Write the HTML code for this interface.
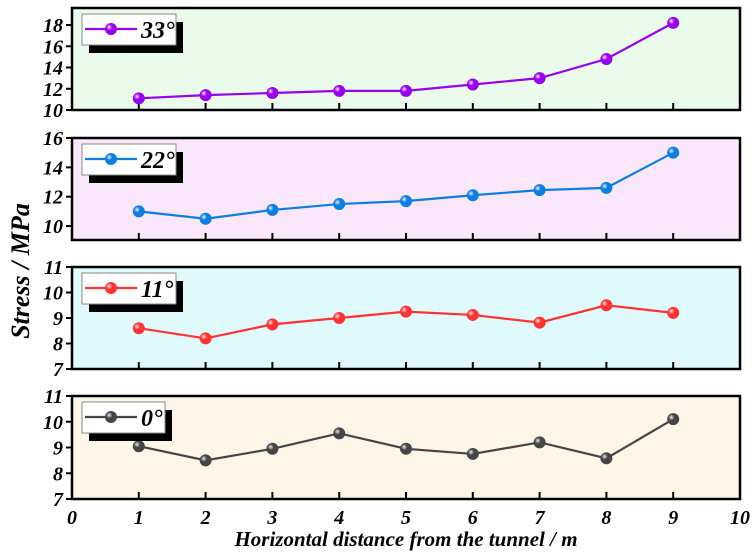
<!DOCTYPE html>
<html><head><meta charset="utf-8"><style>
html,body{margin:0;padding:0;background:#fff;}
svg text{font-family:"Liberation Serif",serif;font-weight:bold;font-style:italic;fill:#000;}
</style></head><body>
<svg id="chart" width="754" height="554" xmlns="http://www.w3.org/2000/svg">
<defs>
<radialGradient id="shine" cx="0.35" cy="0.35" r="0.65"><stop offset="0" stop-color="#fff" stop-opacity="0.9"/><stop offset="0.4" stop-color="#fff" stop-opacity="0"/></radialGradient>
</defs>
</svg>
<script>
const xValues = [1,2,3,4,5,6,7,8,9];
const xTicks = [0,1,2,3,4,5,6,7,8,9,10];
const labels = ["33°","22°","11°","0°"];
const s33 = [11.1,11.4,11.6,11.8,11.8,12.4,13.0,14.8,18.2];
const s22 = [11.0,10.5,11.1,11.5,11.7,12.1,12.45,12.6,15.0];
const s11 = [8.6,8.2,8.75,9.0,9.25,9.12,8.82,9.5,9.2];
const s0 = [9.05,8.5,8.95,9.55,8.95,8.75,9.2,8.58,10.1];
const ticks33 = [10,12,14,16,18];
const ticks22 = [10,12,14,16];
const ticks11 = [7,8,9,10,11];
const ticks0 = [7,8,9,10,11];

const NS="http://www.w3.org/2000/svg";
const svg=document.getElementById('chart');
function mk(t,a,p){const e=document.createElementNS(NS,t);for(const k in a)e.setAttribute(k,a[k]);(p||svg).appendChild(e);return e;}
const X0=72,X1=740;
const xs=v=>X0+(v-0)/(10-0)*(X1-X0);
const panels=[
 {name:'33',data:s33,ticks:ticks33,min:10,max:19.6,top:8,bot:110,bg:'#ebfbeb',col:'#9a00ee',lw:94},
 {name:'22',data:s22,ticks:ticks22,min:9.05,max:16,top:138,bot:240,bg:'#fbe7fb',col:'#0a7ee2',lw:94},
 {name:'11',data:s11,ticks:ticks11,min:7,max:11,top:267,bot:369,bg:'#e0f9fc',col:'#ff3232',lw:94},
 {name:'0',data:s0,ticks:ticks0,min:7,max:11,top:396,bot:499,bg:'#fdf5e6',col:'#454545',lw:83}
];
panels.forEach((p,i)=>{
 const g=mk('g',{});
 
 
 const ys=v=>p.bot-(v-p.min)/(p.max-p.min)*(p.bot-p.top);
 const bg=mk('rect',{x:X0,y:p.top,width:X1-X0,height:p.bot-p.top,fill:p.bg,stroke:'#000','stroke-width':2.5},g);
 
 
 p.ticks.forEach(t=>{
  const y=ys(t);
  mk('line',{x1:X0-6,x2:X0,y1:y,y2:y,stroke:'#000','stroke-width':2},g);
  const tx=mk('text',{x:X0-9,y:y+7,'text-anchor':'end','font-size':20},g);
  tx.textContent=t;
  
  
 });
 xTicks.slice(1,10).forEach(t=>{
  mk('line',{x1:xs(t),x2:xs(t),y1:p.bot-7,y2:p.bot,stroke:'#000','stroke-width':2},g);
 });
 const pts=p.data.map((v,j)=>xs(xValues[j])+','+ys(v)).join(' ');
 const ln=mk('polyline',{points:pts,fill:'none',stroke:p.col,'stroke-width':2.2},g);
 
 
 p.data.forEach((v,j)=>{
  const c=mk('circle',{cx:xs(xValues[j]),cy:ys(v),r:6,fill:p.col},g);
  
  
  mk('circle',{cx:xs(xValues[j]),cy:ys(v),r:6,fill:'url(#shine)'},g);
 });
 const lx=82,ly=p.top+6;
 const lg=mk('g',{},g);
 
 
 mk('rect',{x:lx+7,y:ly+8,width:p.lw,height:31,fill:'#000'},lg);
 mk('rect',{x:lx,y:ly,width:p.lw,height:31,fill:'#fff',stroke:'#888','stroke-width':1},lg);
 mk('line',{x1:lx+3,x2:lx+55,y1:ly+15,y2:ly+15,stroke:p.col,'stroke-width':2.2},lg);
 mk('circle',{cx:lx+29,cy:ly+15,r:6,fill:p.col},lg);
 mk('circle',{cx:lx+29,cy:ly+15,r:6,fill:'url(#shine)'},lg);
 const lt=mk('text',{x:lx+59,y:ly+24,'font-size':24},lg);
 lt.textContent=labels[i];
 
 
});
xTicks.forEach(t=>{
 const tx=mk('text',{x:xs(t),y:524,'text-anchor':'middle','font-size':20});
 tx.textContent=t;
 
 
});
const xt=mk('text',{x:406,y:546,'text-anchor':'middle','font-size':21});
xt.textContent='Horizontal distance from the tunnel / m';


const yt=mk('text',{x:0,y:0,'text-anchor':'middle','font-size':26,transform:'translate(29,271) rotate(-90)'});
yt.textContent='Stress / MPa';


</script>
</body></html>
